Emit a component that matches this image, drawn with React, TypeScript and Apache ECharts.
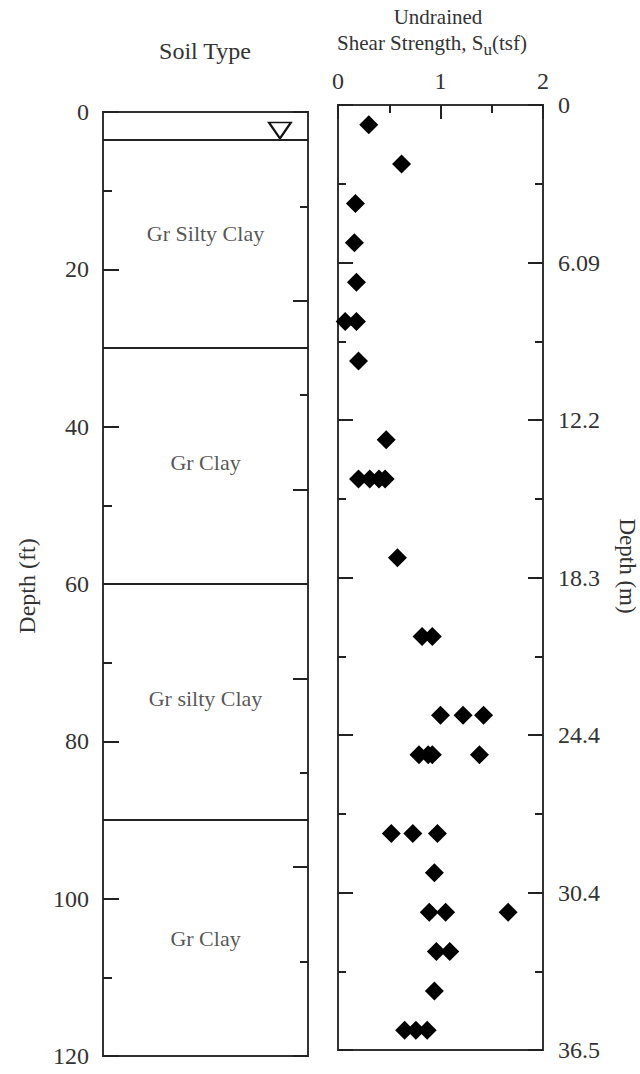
import React, { useEffect, useRef } from "react";
import * as echarts from "echarts";

// ---- data ----
const soilNames = ["Gr Silty Clay", "Gr Clay", "Gr silty Clay", "Gr Clay"];
const soilLabelDepth = [15.5, 44.5, 74.5, 105];
const layerBounds = [3.5, 30, 60, 90];
const waterTable = [0.863, 2.35];

const depthFt = [
  2.5, 7.5, 12.5, 17.5, 22.5, 27.5, 27.5, 32.5,
  42.5, 47.5, 47.5, 47.5, 47.5, 57.5, 67.5, 67.5,
  77.5, 77.5, 77.5, 82.5, 82.5, 82.5, 82.5,
  92.5, 92.5, 92.5, 97.5, 102.5, 102.5, 102.5,
  107.5, 107.5, 112.5, 117.5, 117.5, 117.5,
];
const suTsf = [
  0.3, 0.62, 0.17, 0.16, 0.18, 0.07, 0.18, 0.2,
  0.47, 0.2, 0.31, 0.4, 0.46, 0.58, 0.82, 0.92,
  1.0, 1.22, 1.42, 0.79, 0.88, 0.92, 1.38,
  0.52, 0.73, 0.97, 0.94, 0.89, 1.05, 1.66,
  0.96, 1.09, 0.94, 0.65, 0.76, 0.87,
];
const meterLabels = ["0", "6.09", "12.2", "18.3", "24.4", "30.4", "36.5"];

const FONT = "Liberation Serif";
const TXT = "#333";
const LINE = "#222";

function measure(text: string, size: number): number {
  const c = document.createElement("canvas").getContext("2d");
  if (!c) return text.length * size * 0.45;
  c.font = `${size}px "${FONT}"`;
  return c.measureText(text).width;
}

export default function App() {
  const ref = useRef<HTMLDivElement>(null);
  useEffect(() => {
    if (!ref.current) return;
    const chart = echarts.init(ref.current, null, { renderer: "svg" });
    const tickCommon = (len: number, minorLen: number) => ({
      axisTick: { show: true, inside: true, length: len, lineStyle: { color: LINE, width: 2 } },
      minorTick: { show: true, splitNumber: 2, length: minorLen, lineStyle: { color: LINE, width: 2 } },
      splitLine: { show: false },
      minorSplitLine: { show: false },
      axisLine: { show: true, onZero: false, lineStyle: { color: "#333", width: 2 } },
    });
    const depthAxis = { type: "value", inverse: true, min: 0, max: 120 };

    // subscript title pieces
    const t1 = "Shear Strength, S";
    const t2 = "u";
    const t3 = "(tsf)";
    const w1 = measure(t1, 21);
    const w2 = measure(t2, 17);
    const w3 = measure(t3, 21);
    const x0 = 432 - (w1 + w2 + w3) / 2;

    const option: any = {
      animation: false,
      textStyle: { fontFamily: FONT, color: TXT },
      grid: [
        { left: 103, top: 112, width: 205, height: 944, show: true, borderColor: "#333", borderWidth: 2, backgroundColor: "transparent" },
        { left: 338, top: 105, width: 205, height: 945, show: true, borderColor: "#333", borderWidth: 2, backgroundColor: "transparent" },
      ],
      xAxis: [
        { gridIndex: 0, type: "value", min: 0, max: 1, show: false },
        { gridIndex: 1, type: "value", min: 0, max: 2, show: false },
        {
          gridIndex: 1, type: "value", position: "top", min: 0, max: 2, interval: 1,
          ...tickCommon(14, 8),
          axisLabel: { show: true, fontSize: 24, fontFamily: FONT, color: TXT, margin: 12 },
        },
      ],
      yAxis: [
        { gridIndex: 0, ...depthAxis, show: false },
        {
          gridIndex: 0, ...depthAxis, interval: 20, position: "left",
          ...tickCommon(16, 9),
          axisLabel: { show: true, fontSize: 24, fontFamily: FONT, color: TXT, margin: 14 },
        },
        {
          gridIndex: 0, ...depthAxis, interval: 24, position: "right",
          ...tickCommon(15, 8),
          axisLabel: { show: false },
        },
        { gridIndex: 1, ...depthAxis, show: false },
        {
          gridIndex: 1, ...depthAxis, interval: 20, position: "left",
          ...tickCommon(15, 8),
          axisLabel: { show: false },
        },
        {
          gridIndex: 1, ...depthAxis, interval: 20, position: "right",
          ...tickCommon(15, 8),
          axisLabel: {
            show: true, fontSize: 24, fontFamily: FONT, color: TXT, margin: 15,
            formatter: (v: number) => meterLabels[Math.round(v / 20)] ?? "",
          },
        },
      ],
      series: [
        {
          type: "scatter",
          xAxisIndex: 0,
          yAxisIndex: 0,
          symbolSize: 0,
          silent: true,
          data: soilNames.map((n, i) => [0.5, soilLabelDepth[i], n]),
          label: {
            show: true, position: "inside", fontSize: 22, fontFamily: FONT, color: "#2a2a2a",
            formatter: (p: any) => p.data[2],
          },
          markLine: {
            silent: true,
            symbol: ["none", "none"],
            label: { show: false },
            lineStyle: { color: LINE, width: 2, type: "solid" },
            data: layerBounds.map((d) => ({ yAxis: d })),
          },
        },
        {
          type: "scatter",
          xAxisIndex: 0,
          yAxisIndex: 0,
          symbol: "triangle",
          symbolRotate: 180,
          symbolSize: [22, 16],
          itemStyle: { color: "#fff", borderColor: "#111", borderWidth: 2, opacity: 1 },
          data: [waterTable],
        },
        {
          type: "scatter",
          xAxisIndex: 1,
          yAxisIndex: 3,
          symbol: "diamond",
          symbolSize: [19, 19],
          itemStyle: { color: "#000", opacity: 1 },
          data: depthFt.map((d, i) => [suTsf[i], d]),
        },
      ],
      graphic: [
        { type: "text", x: 205, y: 51, style: { text: "Soil Type", fontSize: 24, fontFamily: FONT, fill: TXT, align: "center", verticalAlign: "middle" } },
        { type: "text", x: 438, y: 17, style: { text: "Undrained", fontSize: 21, fontFamily: FONT, fill: TXT, align: "center", verticalAlign: "middle" } },
        { type: "text", x: x0, y: 43, style: { text: t1, fontSize: 21, fontFamily: FONT, fill: TXT, align: "left", verticalAlign: "middle" } },
        { type: "text", x: x0 + w1, y: 49, style: { text: t2, fontSize: 17, fontFamily: FONT, fill: TXT, align: "left", verticalAlign: "middle" } },
        { type: "text", x: x0 + w1 + w2, y: 43, style: { text: t3, fontSize: 21, fontFamily: FONT, fill: TXT, align: "left", verticalAlign: "middle" } },
        { type: "text", x: 27, y: 586, rotation: Math.PI / 2, style: { text: "Depth (ft)", fontSize: 24, fontFamily: FONT, fill: TXT, align: "center", verticalAlign: "middle" } },
        { type: "text", x: 627, y: 566, rotation: -Math.PI / 2, style: { text: "Depth (m)", fontSize: 23, fontFamily: FONT, fill: TXT, align: "center", verticalAlign: "middle" } },
      ],
    };
    chart.setOption(option);
    return () => chart.dispose();
  }, []);
  return (
    <div
      ref={ref}
      style={{ position: "fixed", left: 0, top: 0, width: 640, height: 1074, background: "#fff" }}
    />
  );
}
